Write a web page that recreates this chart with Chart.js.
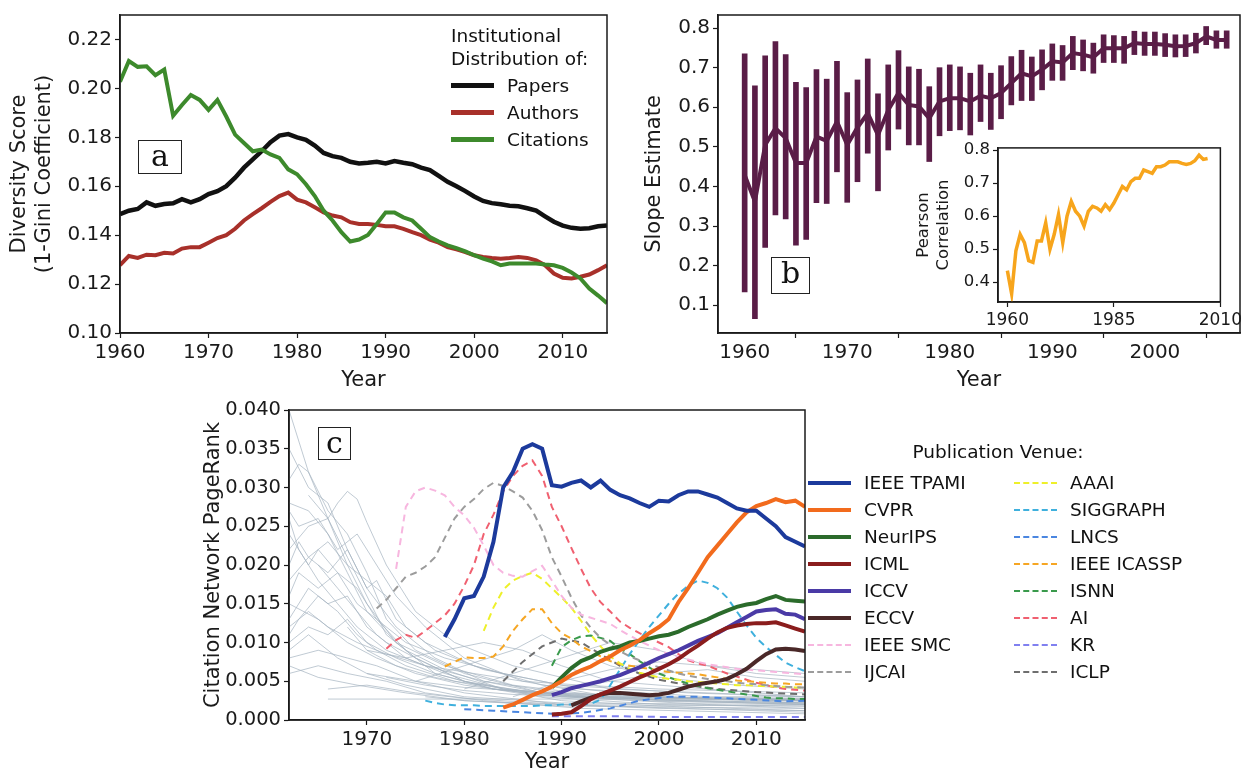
<!DOCTYPE html>
<html>
<head>
<meta charset="utf-8">
<script src="https://cdn.jsdelivr.net/npm/chart.js@4"></script>
<style>
  body { margin: 0; background: #fff; width: 1248px; height: 777px; position: relative; overflow: hidden; font-family: "DejaVu Sans", sans-serif; color: #111; }
  .wrap { position: absolute; }
  .box { position: absolute; border: 1.5px solid #222; font-family: "DejaVu Serif", serif; font-size: 30px; line-height: 30px; text-align: center; background: #fff; }
  .leg { position: absolute; font-size: 18.5px; }
  .row { display: flex; align-items: center; height: 27px; white-space: nowrap; }
  .smp { width: 43px; margin-right: 13px; }
</style>
</head>
<body>
<div class="wrap" style="left:0;top:0"><canvas id="chartA" width="620" height="395"></canvas></div>
<div class="wrap" style="left:620px;top:0"><canvas id="chartB" width="628" height="395"></canvas></div>
<div class="wrap" style="left:900px;top:135px"><canvas id="chartInset" width="345" height="200"></canvas></div>
<div class="wrap" style="left:200px;top:395px"><canvas id="chartC" width="610" height="382"></canvas></div>

<div class="box" style="left:138px;top:140px;width:42px;height:32px">a</div>
<div class="box" style="left:771px;top:257px;width:37px;height:35px">b</div>
<div class="box" style="left:318px;top:427px;width:31px;height:31px">c</div>

<div class="leg" id="legA" style="left:451px;top:24px"></div>
<div class="leg" id="legC" style="left:808px;top:441px"></div>

<script>
// ---------- panel a: institutional diversity ----------
const yearsA = Array.from({ length: 56 }, (_, i) => 1960 + i);
const papers = [0.1486,0.1500,0.1507,0.1534,0.1520,0.1527,0.1530,0.1547,0.1534,0.1547,
  0.1568,0.1580,0.1600,0.1635,0.1676,0.1710,0.1743,0.1780,0.1807,0.1813,
  0.1800,0.1790,0.1766,0.1736,0.1723,0.1716,0.1700,0.1693,0.1696,0.1700,
  0.1693,0.1703,0.1696,0.1690,0.1676,0.1666,0.1642,0.1618,0.1600,0.1580,
  0.1558,0.1540,0.1531,0.1526,0.1520,0.1518,0.1510,0.1500,0.1477,0.1455,
  0.1439,0.1430,0.1426,0.1428,0.1436,0.1440];
const authors = [0.1277,0.1315,0.1307,0.1320,0.1318,0.1328,0.1325,0.1345,0.1351,0.1351,
  0.1369,0.1388,0.1400,0.1426,0.1460,0.1486,0.1510,0.1536,0.1560,0.1574,
  0.1545,0.1534,0.1514,0.1493,0.1480,0.1473,0.1453,0.1446,0.1446,0.1442,
  0.1436,0.1436,0.1426,0.1412,0.1400,0.1382,0.1369,0.1351,0.1342,0.1331,
  0.1318,0.1311,0.1307,0.1304,0.1307,0.1311,0.1307,0.1297,0.1277,0.1243,
  0.1226,0.1223,0.1230,0.1239,0.1257,0.1277];
const citations = [0.2027,0.2112,0.2088,0.2090,0.2054,0.2077,0.1888,0.1932,0.1973,0.1953,
  0.1912,0.1953,0.1885,0.1811,0.1777,0.1743,0.1750,0.1730,0.1716,0.1669,
  0.1649,0.1608,0.1560,0.1500,0.1460,0.1412,0.1374,0.1382,0.1401,0.1446,
  0.1493,0.1493,0.1473,0.1460,0.1426,0.1392,0.1374,0.1358,0.1347,0.1334,
  0.1318,0.1304,0.1293,0.1277,0.1284,0.1284,0.1284,0.1284,0.1280,0.1277,
  0.1266,0.1247,0.1223,0.1182,0.1153,0.1122];
const xTicksA = [1960, 1970, 1980, 1990, 2000, 2010];
const yTicksA = [0.10, 0.12, 0.14, 0.16, 0.18, 0.20, 0.22];

// ---------- panel b: slope estimates ----------
const yearsB = Array.from({ length: 48 }, (_, i) => 1960 + i);
const slopeMean = [0.429,0.362,0.505,0.547,0.522,0.459,0.459,0.526,0.515,0.564,
  0.505,0.549,0.585,0.530,0.593,0.636,0.606,0.602,0.572,0.615,
  0.623,0.623,0.615,0.629,0.623,0.636,0.661,0.686,0.678,0.695,
  0.716,0.713,0.737,0.733,0.726,0.749,0.749,0.749,0.762,0.760,
  0.760,0.758,0.754,0.755,0.762,0.779,0.770,0.770];
const slopeLow = [0.134,0.066,0.246,0.328,0.318,0.252,0.266,0.359,0.357,0.437,
  0.360,0.412,0.484,0.389,0.492,0.545,0.505,0.505,0.463,0.528,
  0.541,0.543,0.530,0.564,0.544,0.571,0.606,0.617,0.617,0.644,
  0.668,0.668,0.695,0.692,0.686,0.713,0.713,0.711,0.733,0.731,
  0.731,0.728,0.727,0.728,0.737,0.758,0.749,0.749];
const slopeHigh = [0.735,0.654,0.730,0.766,0.733,0.663,0.650,0.695,0.671,0.716,
  0.637,0.669,0.722,0.634,0.707,0.743,0.702,0.696,0.652,0.700,
  0.707,0.702,0.686,0.707,0.686,0.705,0.728,0.744,0.727,0.745,
  0.760,0.756,0.779,0.770,0.762,0.783,0.781,0.779,0.792,0.790,
  0.790,0.786,0.783,0.783,0.787,0.804,0.793,0.793];
const pearson = [0.435,0.365,0.495,0.545,0.520,0.465,0.460,0.525,0.525,0.580,
  0.500,0.545,0.605,0.520,0.600,0.645,0.615,0.600,0.570,0.615,
  0.630,0.625,0.615,0.635,0.620,0.640,0.665,0.690,0.680,0.705,
  0.715,0.715,0.740,0.735,0.730,0.750,0.750,0.755,0.765,0.765,
  0.765,0.760,0.757,0.760,0.768,0.785,0.772,0.775];
const xTicksB = [1960, 1970, 1980, 1990, 2000];
const yTicksB = [0.1, 0.2, 0.3, 0.4, 0.5, 0.6, 0.7, 0.8];
const xTicksInset = [1960, 1985, 2010];
const yTicksInset = [0.4, 0.5, 0.6, 0.7, 0.8];

// ---------- panel c: PageRank per venue (values in units of 0.001) ----------
const tpamiStart = 1978;
const tpami = [10.7,13.0,15.7,16.0,18.5,23.0,30.0,32.0,35.0,35.6,35.0,30.3,30.1,30.6,30.9,30.0,30.9,29.7,29.0,28.6,
  28.0,27.5,28.3,28.2,29.0,29.5,29.5,29.1,28.7,28.0,27.3,27.0,27.0,26.0,25.0,23.6,23.0,22.4];
const cvprStart = 1984;
const cvpr = [1.6,2.0,2.6,3.2,3.7,4.3,5.0,5.8,6.4,6.9,7.6,8.2,9.0,9.6,10.3,11.2,12.0,13.0,15.2,17.0,
  19.0,21.0,22.5,24.0,25.5,26.8,27.6,28.0,28.5,28.1,28.3,27.5];
const neuripsStart = 1989;
const neurips = [4.2,5.5,6.7,7.6,8.1,8.8,9.2,9.5,10.0,10.2,10.5,10.8,11.0,11.4,12.0,12.5,13.0,13.6,14.1,14.6,
  14.9,15.1,15.6,16.0,15.5,15.4,15.3];
const icmlStart = 1989;
const icml = [0.7,0.8,1.0,1.8,2.7,3.3,3.8,4.3,4.9,5.5,6.0,6.6,7.2,7.9,8.8,9.6,10.5,11.3,11.9,12.2,
  12.4,12.5,12.5,12.6,12.2,11.8,11.4];
const iccvStart = 1989;
const iccv = [3.2,3.6,4.1,4.4,4.7,5.0,5.4,5.8,6.3,6.8,7.4,8.0,8.5,9.0,9.6,10.2,10.7,11.2,11.9,12.6,
  13.3,14.0,14.2,14.3,13.7,13.6,13.0];
const eccvStart = 1991;
const eccv = [1.9,2.4,2.9,3.3,3.5,3.5,3.4,3.3,3.2,3.3,3.5,3.9,4.3,4.6,4.8,5.0,5.3,5.9,6.6,7.6,
  8.5,9.1,9.2,9.1,8.9];
const smcStart = 1973;
const smc = [19.5,27.5,29.5,30.0,29.6,29.0,27.5,26.4,24.8,22.5,20.0,19.0,18.6,18.5,19.2,19.9,18.0,16.0,14.5,13.6,
  13.2,12.8,12.4,11.6,10.9,10.2,9.6,9.0,8.5,8.1,7.8,7.5,7.2,7.0,6.8,6.6,6.5,6.4,6.3,6.2,6.1,6.0,5.9];
const ijcaiStart = 1971;
const ijcai = [14.4,15.5,17.0,18.5,19.0,19.8,21.0,23.5,26.0,27.5,28.5,29.8,30.6,30.2,29.5,28.7,27.0,24.5,21.0,18.5,
  15.8,13.5,11.9,10.6,9.7,8.9,8.2,7.7,7.2,6.8,6.4,6.0,5.7,5.5,5.3,5.1,5.0,4.8,4.7,4.6,4.5,4.4,4.3,4.25,4.2];
const aaaiStart = 1982;
const aaai = [11.5,14.5,16.8,18.0,18.6,19.0,18.2,17.0,15.8,14.5,12.8,11.0,9.5,8.2,7.3,6.6,6.1,5.8,5.5,5.3,
  5.2,5.0,4.9,4.8,4.7,4.6,4.5,4.5,4.4,4.4,4.3,4.3,4.2,4.2];
const siggraphStart = 1976;
const siggraph = [2.5,2.2,2.0,1.9,1.9,1.9,1.8,1.8,1.8,1.8,1.8,1.8,1.9,1.9,2.0,2.0,2.0,2.1,2.6,4.5,
  6.5,8.5,10.3,12.0,13.5,15.0,16.3,17.3,18.0,17.7,17.0,15.8,14.0,12.2,10.6,9.4,8.4,7.4,6.8,6.3];
const lncsYears = [1980,1983,1986,1989,1992,1995,1998,2001,2004,2007,2010,2013,2015];
const lncs = [1.4,1.2,1.0,0.8,0.9,1.5,2.5,3.0,3.0,2.8,2.6,2.4,2.5];
const icasspStart = 1978;
const icassp = [6.9,7.5,8.1,8.0,8.0,8.2,9.5,11.5,13.0,14.3,14.3,12.5,11.2,10.5,9.5,8.9,8.2,7.6,7.2,7.0,
  6.8,6.6,6.4,6.2,6.1,6.0,5.9,5.7,5.5,5.3,5.1,5.0,4.9,4.8,4.7,4.7,4.6,4.6];
const isnnStart = 1989;
const isnn = [7.0,9.4,10.3,10.8,10.9,10.6,10.2,9.2,8.5,7.6,6.8,6.0,5.5,5.1,4.7,4.4,4.1,3.9,3.7,3.5,
  3.3,3.1,2.9,2.8,2.8,2.7,2.7];
const aiStart = 1972;
const ai = [9.2,10.3,11.0,10.6,11.5,12.5,13.5,15.0,17.3,20.0,24.0,26.5,29.5,31.5,32.8,33.5,31.5,27.5,25.0,22.2,
  19.5,17.0,15.2,14.0,12.7,11.9,11.2,10.6,10.0,9.4,8.5,7.7,7.3,7.0,6.5,6.0,5.6,5.2,4.8,4.5,4.2,4.0,3.9,3.8];
const krYears = [1989,1995,2000,2005,2010,2015];
const kr = [0.5,0.5,0.4,0.4,0.4,0.4];
const iclpYears = [1984,1986,1988,1990,1992,1994,1996,1998,2000,2003,2006,2010,2015];
const iclp = [5.0,7.5,9.5,10.5,10.0,8.5,7.0,6.0,5.2,4.5,4.0,3.6,3.3];

// background venues (grey), [year, value] pairs in units of 0.001
const otherVenues = [
  [[1962,40],[1963,36],[1964,32],[1966,26],[1968,20],[1970,15],[1973,10],[1977,6],[1983,4],[1990,2.5],[2000,1.8],[2015,1.2]],
  [[1962,31],[1963,33],[1964,32],[1966,27],[1968,24],[1970,19],[1972,13],[1975,9],[1980,6],[1988,3.5],[2000,2.5],[2015,2]],
  [[1962,22],[1964,25],[1966,26],[1967,28],[1968,29.5],[1969,28.5],[1970,25.5],[1972,20],[1975,14],[1979,10],[1985,7],[1995,4],[2015,3]],
  [[1962,27],[1963,25],[1965,26],[1967,22],[1969,24],[1971,20],[1973,16],[1976,12],[1980,8],[1986,5],[1995,3],[2015,2.5]],
  [[1962,18],[1964,21],[1966,19],[1968,22],[1970,17],[1971,18],[1973,13],[1976,10],[1981,7],[1988,4.5],[2000,3],[2015,2.4]],
  [[1962,13],[1964,17],[1966,15],[1968,16],[1970,12],[1972,10],[1975,8],[1980,5],[1988,3],[2000,2],[2015,1.8]],
  [[1962,24],[1964,20],[1965,22],[1967,19],[1969,15],[1971,13],[1974,9],[1978,6.5],[1984,4],[1995,2.8],[2015,2]],
  [[1962,10],[1964,12],[1966,11],[1968,13],[1970,10],[1973,8],[1977,6],[1983,4],[1992,3],[2015,2.8]],
  [[1962,16],[1963,19],[1965,17],[1967,19],[1969,17],[1971,13],[1974,10],[1978,8],[1984,6],[1992,4],[2005,3],[2015,3]],
  [[1962,8],[1965,9],[1968,8],[1971,7],[1975,5],[1980,3.5],[1990,2],[2015,1]],
  [[1962,6],[1965,7],[1968,6],[1972,5],[1976,3.5],[1982,2.5],[1992,1.5],[2015,0.8]],
  [[1962,12],[1964,14],[1966,12],[1969,10],[1972,8.5],[1976,7],[1981,6],[1986,5],[1992,4.5],[2000,4],[2015,3.5]],
  [[1970,9],[1974,8],[1978,9],[1982,10],[1986,9],[1990,7],[1995,5],[2005,4],[2015,3]],
  [[1975,5],[1980,7],[1985,9],[1988,11],[1991,9],[1995,7],[2000,5.5],[2008,4.5],[2015,4]],
  [[1966,4],[1970,4.5],[1975,3.5],[1980,2.8],[1990,2],[2000,1.5],[2015,1.2]],
  [[1962,20],[1963,23],[1964,21],[1966,23],[1968,20],[1970,18],[1972,16],[1974,12],[1977,9],[1982,6.5],[1990,4.5],[2003,3.5],[2015,3]],
  [[1980,4],[1985,6],[1990,8],[1995,10],[2000,9],[2005,7],[2010,6],[2015,5.5]],
  [[1985,3],[1990,5],[1995,6.5],[2000,7.5],[2005,7],[2010,6.5],[2015,6]],
  [[1962,35],[1964,30],[1966,28],[1968,22],[1970,17],[1973,12],[1977,8],[1982,5],[1990,3],[2005,2],[2015,1.5]],
  [[1990,4],[1995,5],[2000,6],[2005,6.5],[2010,5.5],[2015,5]],
  [[1962,9],[1964,11],[1967,8],[1970,6],[1974,4.5],[1980,3],[1990,2.2],[2015,2]],
  [[1962,7],[1965,5.5],[1969,4.5],[1974,3.5],[1980,2.5],[1990,1.8],[2015,1.5]],
  [[1962,15],[1965,13],[1968,10],[1971,8],[1975,6],[1980,4.5],[1988,3.2],[2000,2.6],[2015,2.2]],
  [[1962,28],[1964,27],[1966,24],[1968,19],[1970,14],[1973,10],[1978,7],[1985,4.5],[1995,3],[2015,2.6]],
  [[1968,12],[1970,9],[1973,7],[1977,5.5],[1983,4],[1990,3],[2000,2.4],[2015,2.1]],
  [[1970,6],[1975,5],[1980,4.2],[1985,3.8],[1990,3.4],[2000,3],[2015,2.7]],
  [[1965,20],[1967,17],[1969,14],[1971,11],[1974,8],[1978,6],[1984,4],[1992,3],[2015,2.5]],
  [[1962,26],[1963,22],[1965,18],[1967,15],[1969,12],[1972,9],[1976,7],[1982,5],[1990,3.5],[2015,2.2]],
  [[1976,3],[1980,2.5],[1985,2.2],[1990,2],[2000,1.9],[2015,1.8]],
  [[1972,5.5],[1976,4.5],[1980,3.8],[1985,3.3],[1995,2.8],[2015,2.5]],
  [[1964,29],[1966,26],[1968,21],[1970,16],[1972,11],[1975,8],[1980,5],[1988,3.3],[2000,2.6],[2015,2.2]],
  [[1962,11],[1963,13],[1965,16],[1967,14],[1969,11],[1971,9],[1974,7],[1979,5],[1986,3.8],[1995,3],[2015,2.6]],
  [[1966,2.7],[2015,2.7]]
];
const xTicksC = [1970, 1980, 1990, 2000, 2010];
const yTicksC = [0, 0.005, 0.010, 0.015, 0.020, 0.025, 0.030, 0.035, 0.040];

// ---------- helpers ----------
const INK = '#1a1a1a';
Chart.defaults.font.family = '"DejaVu Sans", sans-serif';
Chart.defaults.color = INK;

const framePlugin = {
  id: 'frame',
  beforeDraw(chart, args, opts) {
    if (!opts.fill) return;
    const { ctx, chartArea: a } = chart;
    ctx.save();
    ctx.fillStyle = '#fff';
    ctx.fillRect(a.left, a.top, a.width, a.height);
    ctx.restore();
  },
  afterDraw(chart) {
    const { ctx, chartArea: a } = chart;
    ctx.save();
    ctx.strokeStyle = INK;
    ctx.lineWidth = 1.5;
    ctx.strokeRect(a.left, a.top, a.width, a.height);
    ctx.restore();
  }
};

function axis(o) {
  return {
    type: 'linear',
    min: o.min,
    max: o.max,
    offset: false,
    afterBuildTicks: s => { s.ticks = o.ticks.map(v => ({ value: v })); },
    afterFit: s => { if (s.isHorizontal()) s.height = o.size; else s.width = o.size; },
    grid: { display: true, drawOnChartArea: false, drawTicks: true, tickLength: 5, tickWidth: 1.2, tickColor: INK },
    border: { display: true, color: INK, width: 1.5 },
    ticks: { font: { size: o.font }, color: INK, padding: 3, maxRotation: 0, autoSkip: false, callback: o.fmt },
    title: { display: !!o.title, text: o.title, color: INK, font: { size: o.tfont || 21 }, padding: o.tpad || 2 }
  };
}

function baseOptions(padding, scales, fill) {
  return {
    responsive: false,
    animation: false,
    devicePixelRatio: 1,
    layout: { padding },
    scales,
    plugins: { legend: { display: false }, tooltip: { enabled: false }, frame: { fill } },
    elements: { point: { radius: 0 } }
  };
}

const toPts = (start, vals, k = 1) => vals.map((v, i) => ({ x: start + i, y: v * k }));
const fmtYear = v => String(v);

// ---------- chart a ----------
const colA = { Papers: '#111111', Authors: '#a8302a', Citations: '#3d8a2c' };
new Chart(document.getElementById('chartA'), {
  type: 'line',
  data: {
    datasets: [
      { label: 'Citations', data: toPts(yearsA[0], citations), borderColor: colA.Citations, borderWidth: 4 },
      { label: 'Authors', data: toPts(yearsA[0], authors), borderColor: colA.Authors, borderWidth: 4 },
      { label: 'Papers', data: toPts(yearsA[0], papers), borderColor: colA.Papers, borderWidth: 4.5 }
    ]
  },
  options: baseOptions({ left: 0, top: 10, right: 13, bottom: 0 }, {
    x: axis({ min: 1960, max: 2015, ticks: xTicksA, size: 62, font: 20, fmt: fmtYear, title: 'Year' }),
    y: axis({ min: 0.10, max: 0.23, ticks: yTicksA, size: 120, font: 20, fmt: v => v.toFixed(2),
              title: ['Diversity Score', '(1-Gini Coefficient)'], tpad: 7 })
  }, false),
  plugins: [framePlugin]
});

// ---------- chart b ----------
const PURPLE = '#5a1d47';
new Chart(document.getElementById('chartB'), {
  type: 'bar',
  data: {
    datasets: [
      { type: 'line', label: 'Slope', data: toPts(yearsB[0], slopeMean), borderColor: PURPLE, borderWidth: 4, order: 0 },
      { type: 'bar', label: 'Range', data: yearsB.map((y, i) => ({ x: y, y: [slopeLow[i], slopeHigh[i]] })),
        backgroundColor: PURPLE, barThickness: 5, order: 1 }
    ]
  },
  options: baseOptions({ left: 0, top: 10, right: 8, bottom: 0 }, {
    x: axis({ min: 1957.4, max: 2008.3, ticks: xTicksB, size: 62, font: 20, fmt: fmtYear, title: 'Year' }),
    y: axis({ min: 0.03, max: 0.833, ticks: yTicksB, size: 98, font: 20, fmt: v => v.toFixed(1),
              title: 'Slope Estimate', tpad: 22 })
  }, false),
  plugins: [framePlugin]
});

// ---------- inset ----------
new Chart(document.getElementById('chartInset'), {
  type: 'line',
  data: {
    datasets: [{ label: 'Pearson', data: toPts(yearsB[0], pearson), borderColor: '#f7a51c', borderWidth: 3.5 }]
  },
  options: baseOptions({ left: 0, top: 11, right: 23, bottom: 0 }, {
    x: axis({ min: 1957.8, max: 2010, ticks: xTicksInset, size: 33, font: 17, fmt: fmtYear }),
    y: axis({ min: 0.34, max: 0.807, ticks: yTicksInset, size: 98, font: 16.5, fmt: v => v.toFixed(1),
              title: ['Pearson', 'Correlation'], tfont: 16.5, tpad: 14 })
  }, true),
  plugins: [framePlugin]
});

// ---------- chart c ----------
const K = 0.001;
const venues = [
  { name: 'IEEE TPAMI', pts: toPts(tpamiStart, tpami, K), color: '#1c3a9c', dash: false },
  { name: 'CVPR', pts: toPts(cvprStart, cvpr, K), color: '#f26b1d', dash: false },
  { name: 'NeurIPS', pts: toPts(neuripsStart, neurips, K), color: '#2b6b2b', dash: false },
  { name: 'ICML', pts: toPts(icmlStart, icml, K), color: '#8a1d1d', dash: false },
  { name: 'ICCV', pts: toPts(iccvStart, iccv, K), color: '#4a3aa6', dash: false },
  { name: 'ECCV', pts: toPts(eccvStart, eccv, K), color: '#4a2828', dash: false },
  { name: 'IEEE SMC', pts: toPts(smcStart, smc, K), color: '#f7b6df', dash: true },
  { name: 'IJCAI', pts: toPts(ijcaiStart, ijcai, K), color: '#9c9c9c', dash: true },
  { name: 'AAAI', pts: toPts(aaaiStart, aaai, K), color: '#eef02a', dash: true },
  { name: 'SIGGRAPH', pts: toPts(siggraphStart, siggraph, K), color: '#3fb0dd', dash: true },
  { name: 'LNCS', pts: lncsYears.map((y, i) => ({ x: y, y: lncs[i] * K })), color: '#4a86e0', dash: true },
  { name: 'IEEE ICASSP', pts: toPts(icasspStart, icassp, K), color: '#f6a623', dash: true },
  { name: 'ISNN', pts: toPts(isnnStart, isnn, K), color: '#3a9a4c', dash: true },
  { name: 'AI', pts: toPts(aiStart, ai, K), color: '#f06070', dash: true },
  { name: 'KR', pts: krYears.map((y, i) => ({ x: y, y: kr[i] * K })), color: '#8080f0', dash: true },
  { name: 'ICLP', pts: iclpYears.map((y, i) => ({ x: y, y: iclp[i] * K })), color: '#6e6e6e', dash: true }
];

const datasetsC = venues.map(v => ({
  label: v.name, data: v.pts, borderColor: v.color,
  borderWidth: v.dash ? 2 : 4, borderDash: v.dash ? [7, 5] : [], order: v.dash ? 1 : 0
}));
otherVenues.forEach((line, i) => datasetsC.push({
  label: 'other ' + i, data: line.map(p => ({ x: p[0], y: p[1] * K })),
  borderColor: 'rgba(165,180,193,0.7)', borderWidth: 1, order: 2
}));

new Chart(document.getElementById('chartC'), {
  type: 'line',
  data: { datasets: datasetsC },
  options: baseOptions({ left: 0, top: 15, right: 5, bottom: 0 }, {
    x: axis({ min: 1962, max: 2015, ticks: xTicksC, size: 57, font: 20, fmt: fmtYear, title: 'Year' }),
    y: axis({ min: 0, max: 0.040, ticks: yTicksC, size: 89, font: 19.5, fmt: v => v.toFixed(3),
              title: 'Citation Network PageRank', tpad: 1 })
  }, false),
  plugins: [framePlugin]
});

// ---------- legends ----------
function sample(color, width, dash) {
  return '<div class="smp" style="border-top:' + width + 'px ' + (dash ? 'dashed' : 'solid') + ' ' + color + '"></div>';
}
const legA = document.getElementById('legA');
legA.innerHTML = '<div style="line-height:23px;margin-bottom:2px">Institutional<br>Distribution of:</div>' +
  Object.keys(colA).map(n => '<div class="row">' + sample(colA[n], 5, false) + n + '</div>').join('');

const legC = document.getElementById('legC');
const col = (list, w) => '<div style="width:' + w + 'px">' +
  list.map(v => '<div class="row">' + sample(v.color, v.dash ? 2 : 4, v.dash) + v.name + '</div>').join('') + '</div>';
legC.innerHTML = '<div style="text-align:center;width:380px;height:28px">Publication Venue:</div>' +
  '<div style="display:flex">' + col(venues.slice(0, 8), 206) + col(venues.slice(8), 200) + '</div>';
</script>
</body>
</html>
